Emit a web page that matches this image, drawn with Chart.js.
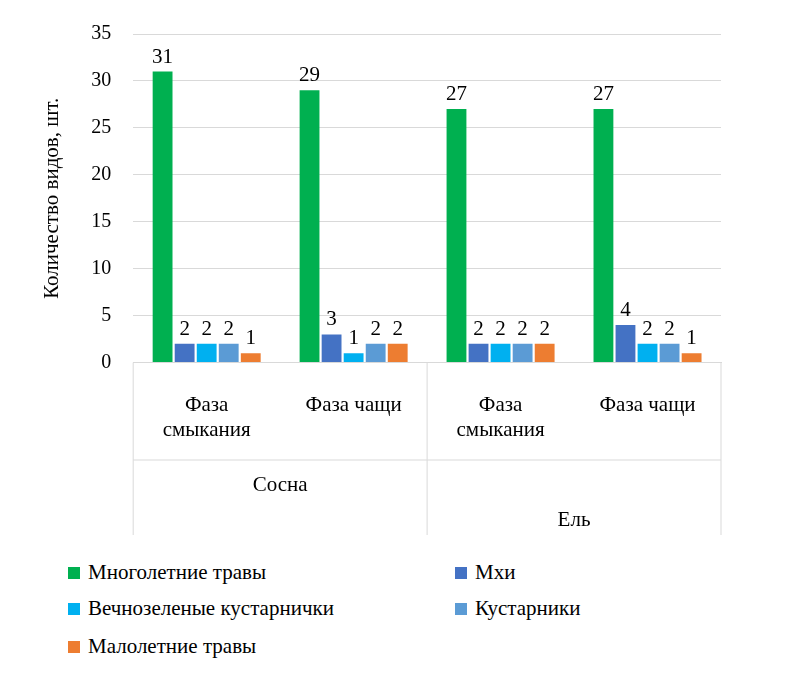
<!DOCTYPE html>
<html lang="ru">
<head>
  <meta charset="UTF-8" />
  <title>Количество видов</title>
  <script src="https://cdn.jsdelivr.net/npm/chart.js"></script>
  <style>
    body { margin: 0; background: #fff; font-family: 'Liberation Serif', serif; }
    .wrap { position: relative; width: 806px; height: 673px; }
    #chart { position: absolute; left: 0; top: 0; }
    .legend { position: absolute; left: 68px; top: 560px; width: 700px; font-size: 21px; color: #000; }
    .legend .item { position: absolute; display: flex; align-items: center; }
    .legend .sw { width: 12px; height: 12px; margin-right: 8px; }
  </style>
</head>
<body>
<div class="wrap">
  <canvas id="chart" width="806" height="545"></canvas>
  <div class="legend" id="legend"></div>
</div>
<script>
const phases = [["Фаза", "смыкания"], "Фаза чащи", ["Фаза", "смыкания"], "Фаза чащи"];
const groups = ["Сосна", "Ель"];
const seriesNames = ["Многолетние травы", "Мхи", "Вечнозеленые кустарнички", "Кустарники", "Малолетние травы"];
const perennial = [31, 29, 27, 27];
const mosses = [2, 3, 2, 4];
const dwarfShrubs = [2, 1, 2, 2];
const shrubs = [2, 2, 2, 2];
const annuals = [1, 2, 2, 1];
const colors = ["#00b050", "#4472c4", "#00b0f0", "#5b9bd5", "#ed7d31"];
const yTicks = [0, 5, 10, 15, 20, 25, 30, 35];

const allData = [perennial, mosses, dwarfShrubs, shrubs, annuals];

const labelsPlugin = {
  id: 'extras',
  afterDatasetsDraw(chart) {
    const ctx = chart.ctx;
    ctx.save();
    ctx.fillStyle = '#000';
    ctx.font = '21px "Liberation Serif", serif';
    ctx.textAlign = 'center';
    ctx.textBaseline = 'bottom';
    chart.data.datasets.forEach((ds, i) => {
      chart.getDatasetMeta(i).data.forEach((bar, j) => {
        ctx.fillText(ds.data[j], bar.x, bar.y - 4);
      });
    });
    // group separators and group labels
    const x = chart.scales.x, area = chart.chartArea;
    ctx.strokeStyle = '#d9d9d9';
    ctx.lineWidth = 1;
    const mid = (x.getPixelForValue(1) + x.getPixelForValue(2)) / 2;
    [area.left, mid, area.right].forEach(px => {
      ctx.beginPath(); ctx.moveTo(px, area.bottom); ctx.lineTo(px, 535); ctx.stroke();
    });
    ctx.beginPath(); ctx.moveTo(area.left, 460); ctx.lineTo(area.right, 460); ctx.stroke();
    ctx.textBaseline = 'middle';
    ctx.fillText(groups[0], (x.getPixelForValue(0) + x.getPixelForValue(1)) / 2, 485);
    ctx.fillText(groups[1], (x.getPixelForValue(2) + x.getPixelForValue(3)) / 2, 520);
    ctx.restore();
  }
};

new Chart(document.getElementById('chart'), {
  type: 'bar',
  data: {
    labels: phases,
    datasets: seriesNames.map((name, i) => ({
      label: name,
      data: allData[i],
      backgroundColor: colors[i],
      categoryPercentage: 0.75,
      barPercentage: 0.9
    }))
  },
  plugins: [labelsPlugin],
  options: {
    responsive: false,
    animation: false,
    layout: { padding: { left: 36, right: 85, top: 22, bottom: 80 } },
    plugins: { legend: { display: false }, tooltip: { enabled: false } },
    scales: {
      y: {
        min: 0, max: 35,
        afterBuildTicks: axis => { axis.ticks = yTicks.map(v => ({ value: v })); },
        ticks: { color: '#000', font: { family: 'Liberation Serif', size: 20 }, padding: 22 },
        grid: { color: '#d9d9d9', drawTicks: false },
        border: { display: false },
        title: { display: true, text: 'Количество видов, шт.', color: '#000', font: { family: 'Liberation Serif', size: 21 } }
      },
      x: {
        ticks: { color: '#000', font: { family: 'Liberation Serif', size: 21 }, padding: 22, maxRotation: 0 },
        grid: { display: false },
        border: { color: '#d9d9d9' }
      }
    }
  }
});

const legend = document.getElementById('legend');
const pos = [[0, 0], [387, 0], [0, 36], [387, 36], [0, 74]];
seriesNames.forEach((name, i) => {
  const it = document.createElement('div');
  it.className = 'item';
  it.style.left = pos[i][0] + 'px';
  it.style.top = pos[i][1] + 'px';
  it.innerHTML = '<span class="sw" style="background:' + colors[i] + '"></span>' + name;
  legend.appendChild(it);
});
</script>
</body>
</html>
